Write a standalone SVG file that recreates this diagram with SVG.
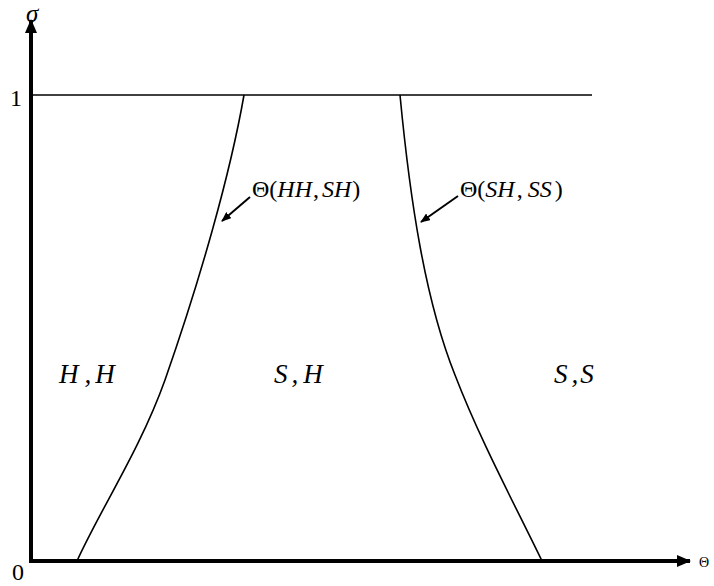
<svg xmlns="http://www.w3.org/2000/svg" width="714" height="586" viewBox="0 0 714 586">
  <defs>
    <marker id="axisHead" viewBox="0 0 14 12" refX="13" refY="6" markerWidth="14" markerHeight="12" markerUnits="userSpaceOnUse" orient="auto">
      <path d="M0,0 L14,6 L0,12 Z" fill="#000"/>
    </marker>
    <marker id="noteHead" viewBox="0 0 10 8" refX="9" refY="4" markerWidth="10" markerHeight="8" markerUnits="userSpaceOnUse" orient="auto">
      <path d="M0,0 L10,4 L0,8 Z" fill="#000"/>
    </marker>
    <style>
      text { font-family: 'Liberation Serif', 'Times New Roman', serif; fill: #000; }
      .it { font-style: italic; }
      .axis { stroke: #000; stroke-width: 4; fill: none; }
      .thin { stroke: #000; stroke-width: 1.6; fill: none; }
      .note { stroke: #000; stroke-width: 2; fill: none; }
    </style>
  </defs>
  <rect width="714" height="586" fill="#fff"/>

  <g id="connectors">
    <!-- axes -->
    <line class="axis" x1="31" y1="563" x2="31" y2="20" marker-end="url(#axisHead)"/>
    <line class="axis" x1="29" y1="561" x2="690" y2="561" marker-end="url(#axisHead)"/>
    <!-- sigma = 1 -->
    <line class="thin" x1="31" y1="95" x2="592" y2="95"/>
    <!-- boundary Θ(HH,SH) -->
    <path class="thin" d="M244,95 C230,175 200,280 165,380 C140,450 100,510 77,561"/>
    <!-- boundary Θ(SH,SS) -->
    <path class="thin" d="M400,95 C410,200 425,300 455,375 C480,440 515,505 542,561"/>
    <!-- label pointers -->
    <line class="note" x1="250" y1="197" x2="222" y2="221" marker-end="url(#noteHead)"/>
    <line class="note" x1="458" y1="196" x2="421" y2="222" marker-end="url(#noteHead)"/>
  </g>

  <g id="axis-labels">
    <text class="it" x="26" y="22" font-size="25">σ</text>
    <text x="10" y="106" font-size="24">1</text>
    <text x="12" y="580" font-size="24">0</text>
    <text x="699" y="567" font-size="14">Θ</text>
  </g>

  <g id="label-hh-sh">
    <text x="252" y="197" font-size="24">Θ(<tspan class="it">HH</tspan><tspan dx="1">,</tspan><tspan class="it" dx="3">SH</tspan><tspan dx="1">)</tspan></text>
  </g>
  <g id="label-sh-ss">
    <text x="460" y="197" font-size="24">Θ(<tspan class="it">SH</tspan><tspan dx="2">,</tspan><tspan class="it" dx="5">SS</tspan><tspan dx="3">)</tspan></text>
  </g>

  <g id="region-hh">
    <text class="it" x="59" y="383" font-size="27">H<tspan dx="6">,</tspan><tspan dx="4">H</tspan></text>
  </g>
  <g id="region-sh">
    <text class="it" x="274" y="383" font-size="27">S<tspan dx="4">,</tspan><tspan dx="5">H</tspan></text>
  </g>
  <g id="region-ss">
    <text class="it" x="554" y="383" font-size="27">S<tspan dx="4">,</tspan><tspan dx="2">S</tspan></text>
  </g>
</svg>
